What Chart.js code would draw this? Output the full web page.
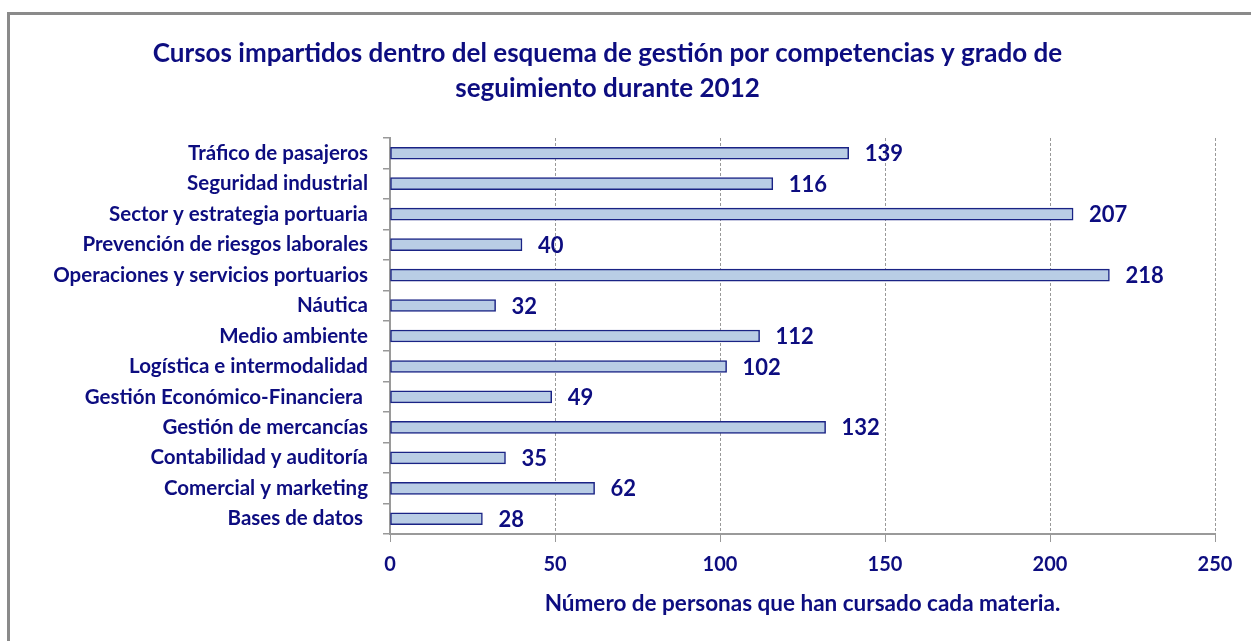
<!DOCTYPE html>
<html lang="es">

<head>
    <meta charset="UTF-8">
    <title>Cursos impartidos 2012</title>
    <script src="https://cdn.jsdelivr.net/npm/chart.js"></script>
    <style>
        html, body {
            margin: 0;
            padding: 0;
            background: #fff;
            overflow: hidden;
        }
        #frame {
            position: absolute;
            left: 7px;
            top: 12px;
            width: 2000px;
            height: 2000px;
            border-top: 3px solid #8a8a8a;
            border-left: 3px solid #8a8a8a;
        }
        #wrap {
            position: absolute;
            left: 0;
            top: 0;
            width: 1251px;
            height: 641px;
        }
    </style>
</head>

<body>
    <div id="frame"></div>
    <div id="wrap"><canvas id="coursesChart"></canvas></div>

    <script>
        const courses = [
            'Tráfico de pasajeros',
            'Seguridad industrial',
            'Sector y estrategia portuaria',
            'Prevención de riesgos laborales',
            'Operaciones y servicios portuarios',
            'Náutica',
            'Medio ambiente',
            'Logística e intermodalidad',
            'Gestión Económico-Financiera ',
            'Gestión de mercancías',
            'Contabilidad y auditoría',
            'Comercial y marketing',
            'Bases de datos '
        ];
        const people = [139, 116, 207, 40, 218, 32, 112, 102, 49, 132, 35, 62, 28];
        const xTicks = [0, 50, 100, 150, 200, 250];

        const navy = '#0d0d80';
        const fontFamily = 'Lato, "Open Sans", sans-serif';

        // value printed to the right of each bar
        const barValues = {
            id: 'barValues',
            afterDatasetsDraw(chart) {
                const ctx = chart.ctx;
                const meta = chart.getDatasetMeta(0);
                ctx.save();
                ctx.font = 'bold 22px ' + fontFamily;
                ctx.fillStyle = navy;
                ctx.textAlign = 'left';
                ctx.textBaseline = 'middle';
                meta.data.forEach((bar, i) => {
                    ctx.fillText(String(people[i]), bar.x + 16, bar.y + 1);
                });
                ctx.restore();
            }
        };

        const ctx = document.getElementById('coursesChart').getContext('2d');
        new Chart(ctx, {
            type: 'bar',
            data: {
                labels: courses,
                datasets: [{
                    data: people,
                    backgroundColor: '#b9cde5',
                    borderColor: '#1a2385',
                    borderWidth: 1.5,
                    borderSkipped: false,
                    barThickness: 12
                }]
            },
            options: {
                indexAxis: 'y',
                responsive: true,
                maintainAspectRatio: false,
                animation: false,
                layout: {
                    padding: { top: 14, right: 36, bottom: 0, left: 0 }
                },
                scales: {
                    x: {
                        min: 0,
                        max: 250,
                        afterFit: (scale) => { scale.height = 107; },
                        afterBuildTicks: (scale) => {
                            scale.ticks = xTicks.map(v => ({ value: v }));
                        },
                        grid: {
                            color: '#999',
                            lineWidth: 1,
                            tickLength: 8,
                            tickColor: '#999',
                            tickBorderDash: [],
                            drawOnChartArea: true
                        },
                        border: {
                            display: true,
                            color: '#9a9a9a',
                            width: 2,
                            dash: [3, 2]
                        },
                        ticks: {
                            color: navy,
                            padding: 11,
                            maxRotation: 0,
                            font: { family: fontFamily, size: 20, weight: 'bold' }
                        },
                        title: {
                            display: true,
                            text: 'Número de personas que han cursado cada materia.',
                            color: navy,
                            padding: { top: 0, bottom: 24 },
                            font: { family: fontFamily, size: 22.5, weight: 'bold' }
                        }
                    },
                    y: {
                        afterFit: (scale) => { scale.width = 390; },
                        grid: {
                            offset: true,
                            drawOnChartArea: false,
                            tickLength: 7,
                            tickColor: '#999',
                            lineWidth: 1.5
                        },
                        border: {
                            display: true,
                            color: '#9a9a9a',
                            width: 2
                        },
                        ticks: {
                            color: navy,
                            padding: 15,
                            autoSkip: false,
                            font: { family: fontFamily, size: 20.5, weight: 'bold' }
                        }
                    }
                },
                plugins: {
                    legend: { display: false },
                    tooltip: { enabled: false },
                    title: {
                        display: true,
                        text: [
                            'Cursos impartidos dentro del esquema de gestión por competencias y grado de',
                            'seguimiento durante 2012'
                        ],
                        color: navy,
                        padding: { top: 22, bottom: 32 },
                        font: { family: fontFamily, size: 26, weight: 'bold', lineHeight: 1.346 }
                    }
                }
            },
            plugins: [barValues]
        });
    </script>
</body>

</html>
